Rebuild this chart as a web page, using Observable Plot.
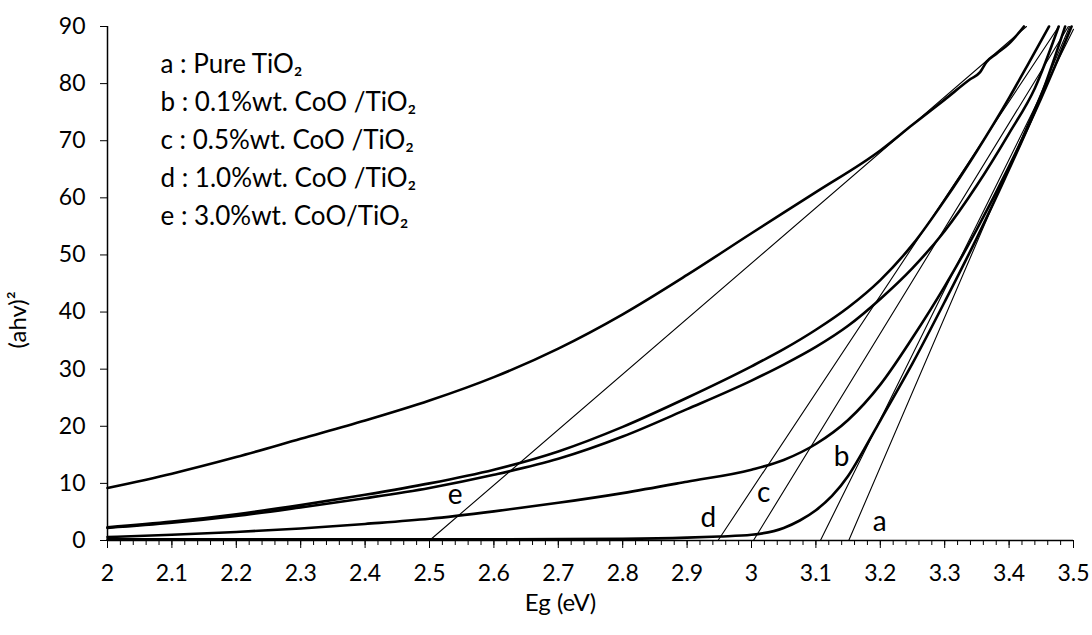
<!DOCTYPE html>
<html>
<head>
<meta charset="utf-8">
<script src="https://cdn.jsdelivr.net/npm/d3@7"></script>
<script src="https://cdn.jsdelivr.net/npm/@observablehq/plot@0.6"></script>
<style>
  html, body { margin: 0; padding: 0; background: #fff; }
  #chart { width: 1092px; height: 635px; }
</style>
</head>
<body>
<div id="chart"></div>
<script>
// ---- Data ----
// Curve a (bottom, near zero until ~2.9 eV)
const curveAx = [2.0, 2.3, 2.6, 2.8, 2.9, 2.95, 3.0, 3.05, 3.075, 3.1, 3.125, 3.15, 3.175, 3.2, 3.25, 3.3, 3.35, 3.4, 3.45, 3.487];
const curveAy = [0.2, 0.2, 0.2, 0.3, 0.5, 0.7, 1.0, 2.2, 3.5, 5.3, 7.8, 11.3, 16.0, 21.0, 31.0, 41.8, 53.0, 65.0, 78.0, 90.0];
// Curve b (starting ~0.6)
const curveBx = [2.0, 2.1, 2.2, 2.3, 2.4, 2.5, 2.6, 2.7, 2.8, 2.9, 3.0, 3.05, 3.1, 3.15, 3.2, 3.25, 3.3, 3.35, 3.4, 3.45, 3.497];
const curveBy = [0.6, 1.0, 1.5, 2.1, 2.9, 3.8, 5.1, 6.6, 8.3, 10.3, 12.4, 14.1, 16.9, 21.1, 27.3, 35.5, 44.5, 54.5, 65.5, 77.5, 90.0];
// Curve c (lower of the two middle curves)
const curveCx = [2.0, 2.1, 2.2, 2.3, 2.4, 2.5, 2.6, 2.7, 2.8, 2.9, 3.0, 3.05, 3.1, 3.15, 3.2, 3.25, 3.3, 3.35, 3.4, 3.44, 3.477];
const curveCy = [2.2, 3.1, 4.3, 5.8, 7.4, 9.2, 11.5, 14.3, 18.2, 23.0, 28.0, 30.8, 33.9, 37.6, 42.3, 47.7, 54.2, 62.2, 71.3, 79.2, 90.0];
// Curve d (upper of the two middle curves)
const curveDx = [2.0, 2.1, 2.2, 2.3, 2.4, 2.5, 2.6, 2.7, 2.8, 2.9, 3.0, 3.05, 3.1, 3.15, 3.2, 3.25, 3.3, 3.35, 3.4, 3.43, 3.462];
const curveDy = [2.3, 3.3, 4.6, 6.2, 8.0, 10.0, 12.4, 15.6, 19.9, 25.0, 30.5, 33.5, 36.9, 40.8, 45.6, 51.8, 59.6, 68.2, 77.5, 83.5, 90.0];
// Curve e (top)
const curveEx = [2.0, 2.1, 2.2, 2.3, 2.4, 2.5, 2.6, 2.7, 2.8, 2.9, 3.0, 3.1, 3.2, 3.25, 3.3, 3.34, 3.355, 3.365, 3.38, 3.4, 3.423];
const curveEy = [9.2, 11.7, 14.6, 17.8, 21.0, 24.5, 28.6, 33.6, 39.6, 46.5, 53.8, 61.0, 68.3, 72.8, 77.2, 80.8, 82.0, 83.8, 85.2, 87.0, 90.0];

// Tangent (extrapolation) lines: start at y = 0, end at top
const tangentNames = ["a", "b", "c", "d", "e"];
const tangentX0 = [3.151, 3.107, 3.003, 2.948, 2.5];
const tangentX1 = [3.494, 3.50, 3.492, 3.477, 3.427];
const tangentY1 = [90, 89.5, 90, 90, 90];

// Letter labels on the chart
const labelText = ["a", "b", "c", "d", "e"];
const labelX = [3.199, 3.140, 3.019, 2.933, 2.540];
const labelY = [3.2, 14.6, 8.3, 3.9, 7.9];

// Legend lines
const legendLines = [
  "a : Pure TiO\u2082",
  "b : 0.1%wt. CoO /TiO\u2082",
  "c : 0.5%wt. CoO /TiO\u2082",
  "d : 1.0%wt. CoO /TiO\u2082",
  "e : 3.0%wt. CoO/TiO\u2082"
];

// Axes
const xTicks = [2, 2.1, 2.2, 2.3, 2.4, 2.5, 2.6, 2.7, 2.8, 2.9, 3, 3.1, 3.2, 3.3, 3.4, 3.5];
const xMinorStep = 0.02;
const yTicks = [0, 10, 20, 30, 40, 50, 60, 70, 80, 90];
const xTitle = "Eg (eV)";
const yTitle = "(ahv)\u00B2";

// ---- Build tables ----
const curves = [
  ["a", curveAx, curveAy], ["b", curveBx, curveBy], ["c", curveCx, curveCy],
  ["d", curveDx, curveDy], ["e", curveEx, curveEy]
].flatMap(([name, xs, ys]) => xs.map((x, i) => ({name, x, y: ys[i]})));

const tangents = tangentNames.flatMap((name, i) => [
  {name, x: tangentX0[i], y: 0},
  {name, x: tangentX1[i], y: tangentY1[i]}
]);

const labels = labelText.map((t, i) => ({t, x: labelX[i], y: labelY[i]}));
const xMinor = d3.range(0, 76).map(i => +(2 + i * xMinorStep).toFixed(2));

const chart = Plot.plot({
  width: 1092,
  height: 635,
  marginLeft: 107,
  marginRight: 19,
  marginTop: 26,
  marginBottom: 95,
  x: {domain: [2, 3.5]},
  y: {domain: [0, 90]},
  style: {fontFamily: "Lato, 'Open Sans', sans-serif", fontSize: "23px", color: "#000", background: "#fff"},
  marks: [
    Plot.axisX({ticks: xMinor, tickSize: 5, tickFormat: () => "", label: null, stroke: "#000"}),
    Plot.axisX({ticks: xTicks, tickSize: 8, tickPadding: 16, tickFormat: d => `${d}`, label: null, fontSize: 23, stroke: "#000"}),
    Plot.axisY({ticks: yTicks, tickSize: 7, tickPadding: 15, label: null, fontSize: 23, stroke: "#000"}),
    Plot.ruleY([0], {stroke: "#000", strokeWidth: 1.5}),
    Plot.ruleX([2], {stroke: "#000", strokeWidth: 1.5}),
    Plot.line(tangents, {x: "x", y: "y", z: "name", stroke: "#000", strokeWidth: 1.1}),
    Plot.line(curves, {x: "x", y: "y", z: "name", stroke: "#000", strokeWidth: 2.6, curve: "monotone-x"}),
    Plot.text(labels, {x: "x", y: "y", text: "t", fontSize: 28, fill: "#000"}),
    Plot.text([legendLines.join("\n")], {frameAnchor: "top-left", dx: 53, dy: 20, textAnchor: "start", lineAnchor: "top", lineHeight: 38 / 26, fontSize: 26, fill: "#000"}),
    Plot.text([xTitle], {frameAnchor: "bottom", dx: -30, dy: 63, lineAnchor: "middle", fontSize: 24, fill: "#000"}),
    Plot.text([yTitle], {frameAnchor: "left", dx: -89, dy: 65, rotate: -90, lineAnchor: "middle", fontSize: 24, fill: "#000"})
  ]
});
document.getElementById("chart").appendChild(chart);
</script>
</body>
</html>
